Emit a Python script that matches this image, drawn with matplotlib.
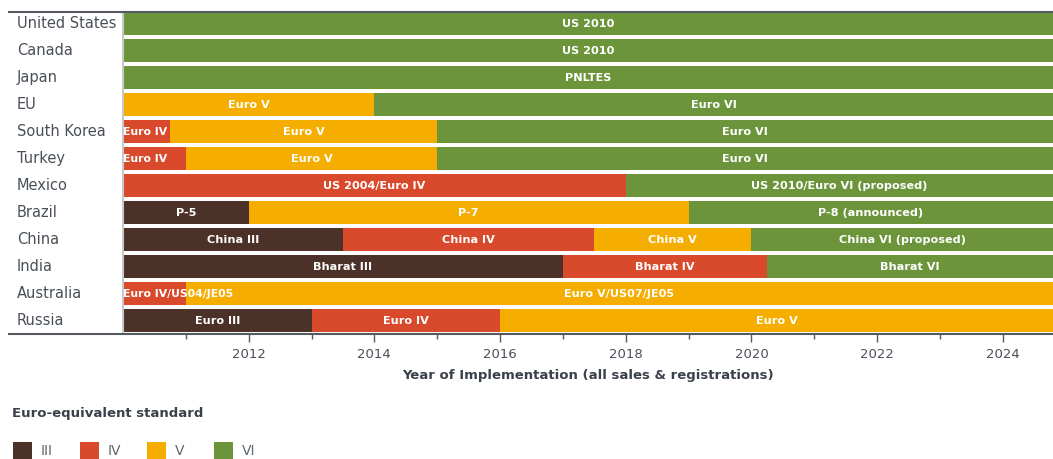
import matplotlib
matplotlib.use("Agg")
import matplotlib.pyplot as plt
from matplotlib.lines import Line2D
from matplotlib.patches import Rectangle

countries = ["United States", "Canada", "Japan", "EU", "South Korea", "Turkey",
             "Mexico", "Brazil", "China", "India", "Australia", "Russia"]

seg_starts = [
    [2010],
    [2010],
    [2010],
    [2010, 2014],
    [2010, 2010.75, 2015],
    [2010, 2011, 2015],
    [2010, 2018],
    [2010, 2012, 2019],
    [2010, 2013.5, 2017.5, 2020],
    [2010, 2017, 2020.25],
    [2010, 2011],
    [2010, 2013, 2016],
]
seg_levels = [
    ["VI"], ["VI"], ["VI"],
    ["V", "VI"],
    ["IV", "V", "VI"],
    ["IV", "V", "VI"],
    ["IV", "VI"],
    ["III", "V", "VI"],
    ["III", "IV", "V", "VI"],
    ["III", "IV", "VI"],
    ["IV", "V"],
    ["III", "IV", "V"],
]
seg_labels = [
    ["US 2010"], ["US 2010"], ["PNLTES"],
    ["Euro V", "Euro VI"],
    ["Euro IV", "Euro V", "Euro VI"],
    ["Euro IV", "Euro V", "Euro VI"],
    ["US 2004/Euro IV", "US 2010/Euro VI (proposed)"],
    ["P-5", "P-7", "P-8 (announced)"],
    ["China III", "China IV", "China V", "China VI (proposed)"],
    ["Bharat III", "Bharat IV", "Bharat VI"],
    ["Euro IV/US04/JE05", "Euro V/US07/JE05"],
    ["Euro III", "Euro IV", "Euro V"],
]
x_min, x_max = 2010, 2024.8
legend_levels = ["III", "IV", "V", "VI"]
colors = {"III": "#4b3128", "IV": "#d9492b", "V": "#f5ae00", "VI": "#6c953b"}

W, H = 1053, 459
fig = plt.figure(figsize=(W / 100, H / 100), dpi=100)
ax = fig.add_axes([123 / W, 1 - 334 / H, (W - 123) / W, 322 / H])

FONT = "DejaVu Sans"
text_col = "#4a5058"
bar_h = 0.85

for i, (starts, levels, labels) in enumerate(zip(seg_starts, seg_levels, seg_labels)):
    ends = starts[1:] + [x_max]
    for s, e, lv, lb in zip(starts, ends, levels, labels):
        ax.barh(i, e - s, left=s, height=bar_h, color=colors[lv], linewidth=0)
        if e - s < 1.2 and s == x_min:
            ax.text(s, i, lb, ha="left", va="center", color="white",
                    fontsize=7.8, fontweight="bold", family=FONT)
        else:
            ax.text((s + e) / 2, i, lb, ha="center", va="center", color="white",
                    fontsize=8.1, fontweight="bold", family=FONT)

ax.set_xlim(x_min, x_max)
ax.set_ylim(11.5, -0.43)
ax.set_yticks([])
for sp in ["top", "right", "bottom"]:
    ax.spines[sp].set_visible(False)
ax.spines["left"].set_color("#c9c9c9")
ax.spines["left"].set_linewidth(1.5)

ax.set_xticks(list(range(2012, 2025, 2)))
ax.set_xticks(list(range(2011, 2025, 2)), minor=True)
ax.tick_params(axis="x", which="major", length=6, width=1, color="#555a60",
               labelsize=9.5, labelcolor=text_col, pad=4)
ax.tick_params(axis="x", which="minor", length=3.5, width=1, color="#555a60")
for t in ax.get_xticklabels():
    t.set_family(FONT)
ax.set_xlabel("Year of Implementation (all sales & registrations)", fontsize=9.5,
              fontweight="bold", color="#3a414a", family=FONT, labelpad=6)

for i, c in enumerate(countries):
    ax.text(17 / W, ax.transData.transform((0, i))[1] / fig.bbox.height, c,
            transform=fig.transFigure, ha="left", va="center",
            fontsize=10.5, color=text_col, family=FONT)

fig.add_artist(Line2D([9 / W, 1], [1 - 11.5 / H, 1 - 11.5 / H], color="#555a60", lw=1.5,
                      transform=fig.transFigure))
fig.add_artist(Line2D([9 / W, 1], [1 - 334 / H, 1 - 334 / H], color="#555a60", lw=1.5,
                      transform=fig.transFigure))

fig.text(12 / W, 1 - 413 / H, "Euro-equivalent standard", ha="left", va="center",
         fontsize=9.5, fontweight="bold", color="#3a414a", family=FONT)
for k, lv in enumerate(legend_levels):
    x0 = 13 + k * 67
    fig.add_artist(Rectangle((x0 / W, 1 - 459 / H), 19 / W, 17 / H, color=colors[lv],
                             transform=fig.transFigure, linewidth=0))
    fig.text((x0 + 28) / W, 1 - 451 / H, lv, ha="left", va="center",
             fontsize=10, color="#606770", family=FONT)

fig.savefig("out.png", dpi=100)
